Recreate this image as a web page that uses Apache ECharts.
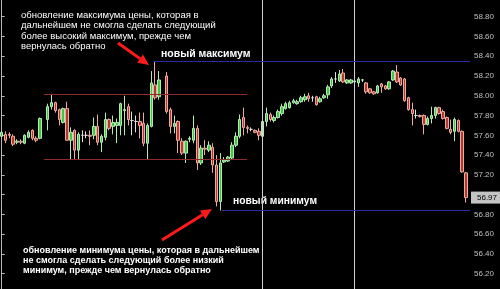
<!DOCTYPE html>
<html><head><meta charset="utf-8">
<script src="https://cdn.jsdelivr.net/npm/echarts@6/dist/echarts.min.js"></script>
<style>html,body{margin:0;padding:0;background:#000;}#c{width:500px;height:289px;}</style>
</head><body><div id="c"></div>
<script>
// candle values, one entry per bar (null = no bar drawn)
const opens = [57.59,57.61,57.61,57.59,57.53,57.54,57.52,57.58,57.65,57.57,57.57,null,57.76,57.89,57.93,57.86,57.73,57.87,57.55,57.65,
57.45,57.60,57.60,57.60,57.60,57.69,57.53,57.58,57.76,57.69,57.70,57.70,57.85,57.89,57.75,57.74,57.74,57.72,57.52,57.69,
58.11,57.99,null,58.20,57.86,57.69,57.74,57.54,57.42,57.56,57.55,57.67,57.32,57.47,57.45,57.48,57.30,56.93,57.33,57.34,
57.37,57.50,57.59,57.78,57.68,57.66,57.65,57.64,57.59,57.74,57.81,57.75,57.78,57.82,57.87,57.88,57.93,57.92,57.94,57.96,
58.00,57.98,57.99,57.94,57.98,58.01,58.10,58.17,58.15,58.23,58.13,58.13,58.14,58.13,58.16,58.13,58.07,58.04,58.03,58.12,
58.10,58.07,58.16,58.24,58.18,58.17,57.98,57.86,57.80,57.80,57.80,57.71,57.77,57.80,57.88,57.84,57.78,57.66,57.64,57.75,
57.64,57.22];
const closes = [57.63,57.55,57.60,57.51,57.54,57.53,57.60,57.63,57.57,57.55,57.77,null,57.89,57.93,57.85,57.76,57.87,57.55,57.63,57.45,
57.61,57.60,57.60,57.59,57.69,57.53,57.59,57.76,57.67,57.73,57.73,57.92,57.86,57.76,57.75,57.74,57.70,57.52,57.70,58.13,
57.98,58.16,null,57.84,57.69,57.72,57.55,57.42,57.54,57.57,57.67,57.32,57.47,57.46,57.50,57.30,56.93,57.32,57.35,57.38,
57.50,57.59,57.76,57.68,57.67,57.66,57.63,57.60,57.74,57.82,57.76,57.78,57.84,57.89,57.92,57.93,57.95,57.94,57.98,57.99,
57.97,57.98,57.91,57.97,58.00,58.09,58.17,58.17,58.22,58.14,58.16,58.16,58.15,58.17,58.16,58.04,58.03,58.02,58.10,58.09,
58.07,58.14,58.25,58.14,58.11,57.95,57.86,57.82,57.80,57.79,57.71,57.77,57.80,57.88,57.82,57.77,57.67,57.63,57.76,57.64,
57.23,56.97];
const lows = [57.58,57.52,57.57,57.49,57.51,57.51,57.51,57.57,57.55,57.53,57.56,null,57.65,57.86,57.83,57.70,57.72,57.55,57.36,57.36,
57.36,57.53,57.57,57.50,57.56,57.50,57.43,57.55,57.65,57.61,57.52,57.60,57.60,57.70,57.60,57.63,57.57,57.49,57.36,57.68,
57.96,57.96,null,57.82,57.62,57.62,57.42,57.40,57.32,57.53,57.52,57.25,57.30,57.40,57.43,57.22,56.88,56.84,57.32,57.33,
57.36,57.48,57.57,57.60,57.62,57.64,57.62,57.55,57.52,57.69,57.74,57.73,57.77,57.80,57.86,57.87,57.92,57.91,57.93,57.94,
57.94,57.94,57.90,57.93,57.97,57.97,58.08,58.13,58.14,58.13,58.12,58.12,58.13,58.09,58.14,58.02,58.02,58.01,58.02,58.03,
58.06,58.06,58.15,58.13,58.10,57.94,57.85,57.70,57.77,57.78,57.61,57.70,57.72,57.77,57.81,57.76,57.66,57.61,57.54,57.63,
57.22,56.92];
const highs = [57.64,57.64,57.63,57.61,57.56,57.56,57.61,57.65,57.66,57.59,57.78,null,57.92,58.02,57.94,57.87,57.88,57.94,57.68,57.66,
57.63,57.65,57.64,57.65,57.78,57.81,57.61,57.83,57.77,57.80,57.77,57.93,58.00,57.92,57.84,57.80,57.83,57.83,57.72,58.25,
58.35,58.25,null,58.24,57.88,57.80,57.75,57.57,57.55,57.59,57.80,57.70,57.50,57.55,57.54,57.52,57.40,57.42,57.38,57.39,
57.53,57.63,57.81,57.88,57.70,57.68,57.66,57.67,57.74,57.88,57.83,57.80,57.86,57.92,57.94,57.95,57.97,57.96,58.00,58.02,
58.03,58.00,58.00,57.99,58.02,58.11,58.19,58.24,58.26,58.27,58.17,58.17,58.16,58.19,58.17,58.14,58.08,58.05,58.11,58.13,
58.11,58.15,58.26,58.31,58.19,58.18,57.99,57.93,57.86,57.81,57.81,57.79,57.89,57.89,57.89,57.86,57.79,57.76,57.78,57.76,
57.65,57.23];
const yTicks = [56.20,56.40,56.60,56.80,57.00,57.20,57.40,57.60,57.80,58.00,58.20,58.40,58.60,58.80];
const lastPrice = 56.97;
const newHigh = 58.35, newLow = 56.84;
const rangeTop = 58.02, rangeBottom = 57.36;
const sessionBreaks = [68, 92];
const highNote = 'обновление максимума цены, которая в\nдальнейшем не смогла сделать следующий\nболее высокий максимум, прежде чем\nвернулась обратно';
const lowNote = 'обновление минимума цены, которая в дальнейшем\nне смогла сделать следующий более низкий\nминимум, прежде чем вернулась обратно';
const highLabel = 'новый максимум';
const lowLabel = 'новый минимум';

const xMin = -0.443, xMax = 122.05;
const candles = opens.map((o, i) => o == null ? null : [i, o, closes[i], lows[i], highs[i]]).filter(Boolean);

function arrow(x1, y1, x2, y2) {
  const a = Math.atan2(y2 - y1, x2 - x1), L = 11, W = 5;
  const bx = x2 - L * Math.cos(a), by = y2 - L * Math.sin(a);
  return { type: 'group', children: [
    { type: 'line', shape: { x1: x1, y1: y1, x2: bx, y2: by }, style: { stroke: '#ff1a1a', lineWidth: 3 } },
    { type: 'polygon', shape: { points: [[x2, y2], [bx + W * Math.sin(a), by - W * Math.cos(a)], [bx - W * Math.sin(a), by + W * Math.cos(a)]] }, style: { fill: '#ff1a1a' } }
  ]};
}

const FONT = '"Liberation Sans", Arial, sans-serif';
const chart = echarts.init(document.getElementById('c'), null, { renderer: 'canvas' });
chart.setOption({
  backgroundColor: '#000',
  animation: false,
  grid: { left: 0, right: 30, top: 0, bottom: 0 },
  xAxis: { type: 'value', min: xMin, max: xMax, show: false, splitLine: { show: false } },
  yAxis: {
    type: 'value', position: 'right', min: 56.045, max: 58.969, scale: true,
    splitLine: { show: false },
    axisLine: { show: true, lineStyle: { color: '#b8b8b8', width: 1 } },
    axisTick: { show: true, length: 3, lineStyle: { color: '#b8b8b8' }, customValues: yTicks },
    axisLabel: { customValues: yTicks, formatter: v => v.toFixed(2), color: '#c0c0c0', fontSize: 8, fontFamily: FONT, margin: 4 }
  },
  series: [{
    type: 'candlestick',
    data: candles,
    encode: { x: 0, y: [1, 2, 3, 4] },
    barWidth: 3,
    itemStyle: {
      color: '#44c444', color0: '#b03a2c',
      borderColor: '#b6e8b6', borderColor0: '#eeaaa0', borderColorDoji: '#e0e0e0', borderWidth: 1
    },
    markLine: {
      silent: true, symbol: ['none', 'none'], animation: false,
      label: { show: false },
      data: [
        { xAxis: sessionBreaks[0], lineStyle: { color: '#d0d0d0', width: 1, type: 'solid' } },
        { xAxis: sessionBreaks[1], lineStyle: { color: '#d0d0d0', width: 1, type: 'solid' } },
        [{ coord: [39.5, newHigh], lineStyle: { color: '#2a2a9c', width: 1, type: 'solid' } }, { coord: [xMax, newHigh] }],
        [{ coord: [57.4, newLow], lineStyle: { color: '#2a2a9c', width: 1, type: 'solid' } }, { coord: [xMax, newLow] }],
        [{ coord: [11, rangeTop], lineStyle: { color: '#8e2c2c', width: 1, type: 'solid' } }, { coord: [64, rangeTop] }],
        [{ coord: [11, rangeBottom], lineStyle: { color: '#8e2c2c', width: 1, type: 'solid' } }, { coord: [64, rangeBottom] }]
      ]
    }
  }, {
    type: 'line',
    data: [],
    markLine: {
      silent: true, symbol: ['none', 'none'], animation: false,
      lineStyle: { color: 'rgba(0,0,0,0)', width: 0 },
      label: { show: true, position: 'end', distance: 1, formatter: () => lastPrice.toFixed(2), color: '#000', fontSize: 8, fontFamily: FONT,
               backgroundColor: '#c4c4c4', padding: [2, 4, 2, 6] },
      data: [{ yAxis: lastPrice }]
    }
  }],
  graphic: [
    { type: 'text', x: 21, y: 10, style: { text: highNote, fill: '#fff', font: '9.5px ' + FONT, lineHeight: 10.5, verticalAlign: 'top' } },
    { type: 'text', x: 23, y: 245, style: { text: lowNote, fill: '#fff', font: 'bold 9px ' + FONT, lineHeight: 10.3, verticalAlign: 'top' } },
    { type: 'text', x: 161, y: 54.5, style: { text: highLabel, fill: '#fff', font: 'bold 10.5px ' + FONT, verticalAlign: 'middle' } },
    { type: 'text', x: 233, y: 201, style: { text: lowLabel, fill: '#fff', font: 'bold 10.3px ' + FONT, verticalAlign: 'middle' } },
    arrow(118, 43, 149, 65),
    arrow(162, 240, 212, 209)
  ]
});
</script></body></html>
